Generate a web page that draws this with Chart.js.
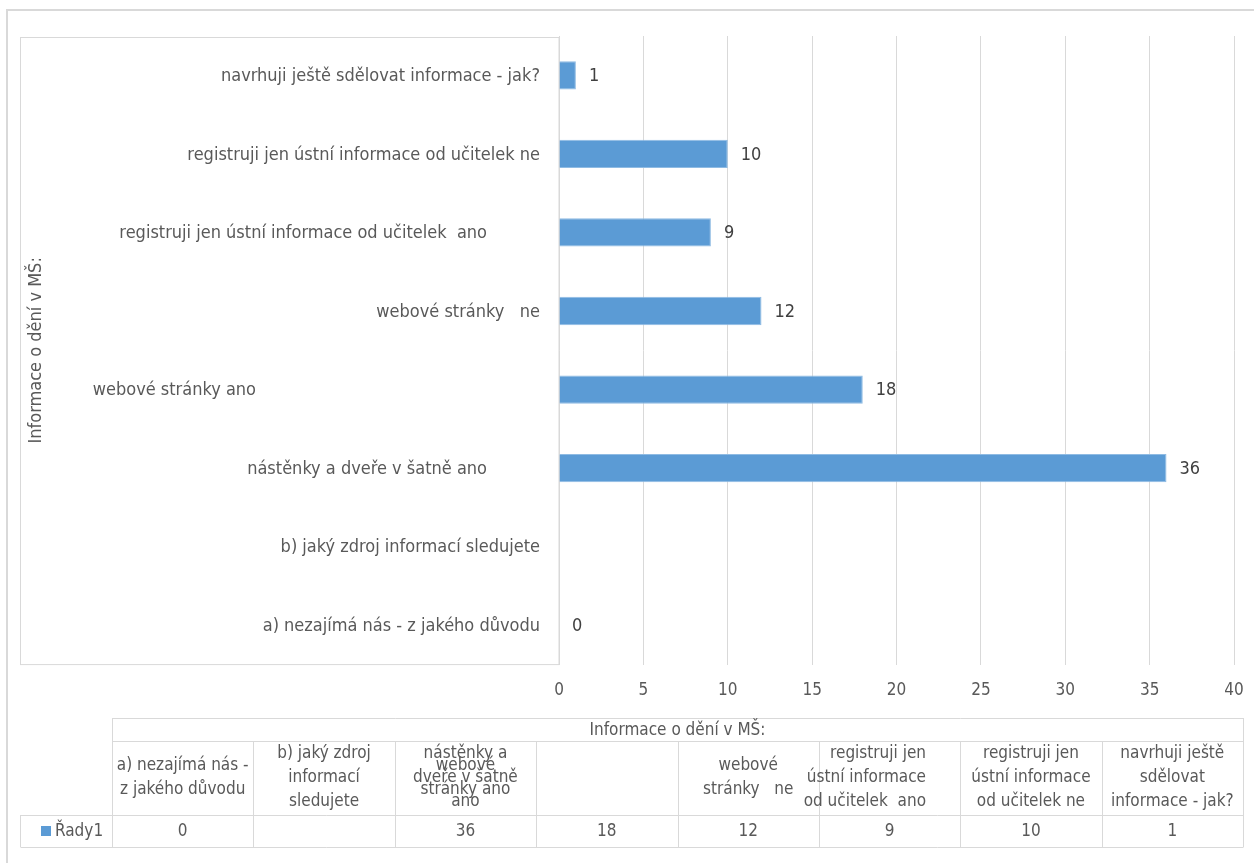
<!DOCTYPE html>
<html>
<head>
<meta charset="utf-8">
<script src="https://cdn.jsdelivr.net/npm/chart.js@4.4.1/dist/chart.umd.min.js"></script>
<style>
  html, body { margin: 0; padding: 0; background: #fff; }
  #wrap { width: 1254px; height: 863px; }
</style>
</head>
<body>
<div id="wrap"><canvas id="chart" width="1254" height="863"></canvas></div>
<script>
// Data (table order, bottom to top in the chart)
const categories = [
    'a) nezajímá nás - z jakého důvodu',
    'b) jaký zdroj informací sledujete',
    'nástěnky a dveře v šatně ano',
    'webové stránky ano',
    'webové stránky   ne',
    'registruji jen ústní informace od učitelek  ano',
    'registruji jen ústní informace od učitelek ne',
    'navrhuji ještě sdělovat informace - jak?'
];
const values = [0, null, 36, 18, 12, 9, 10, 1];
const seriesName = 'Řady1';
const axisTitle = 'Informace o dění v MŠ:';

// wrapped category text as shown in the data table
const tableLabels = [
    ['a) nezajímá nás -', 'z jakého důvodu'],
    ['b) jaký zdroj', 'informací', 'sledujete'],
    ['nástěnky a', 'dveře v šatně', 'ano'],
    ['webové', 'stránky ano'],
    ['webové', 'stránky   ne'],
    ['registruji jen', 'ústní informace', 'od učitelek  ano'],
    ['registruji jen', 'ústní informace', 'od učitelek ne'],
    ['navrhuji ještě', 'sdělovat', 'informace - jak?']
];

const FONT = '"Liberation Sans Narrow", "DejaVu Sans Condensed", sans-serif';
const TEXT = '#595959';
const GRID = '#d9d9d9';
const BLUE = '#5B9BD5';

// right edge of each category label (Excel placed them unevenly)
const labelRight = [540, 540, 487, 256, 540, 487, 540, 540];

const decorations = {
    id: 'decorations',
    beforeDraw(chart) {
        const ctx = chart.ctx;
        ctx.save();
        ctx.strokeStyle = GRID;
        ctx.lineWidth = 2;
        ctx.beginPath();
        ctx.moveTo(7, 863);
        ctx.lineTo(7, 10);
        ctx.lineTo(1254, 10);
        ctx.stroke();
        ctx.lineWidth = 1;
        ctx.strokeRect(20.5, 37.5, chart.chartArea.left - 20.5, chart.chartArea.bottom - 37.5);
        ctx.restore();
    },
    afterDatasetsDraw(chart) {
        const ctx = chart.ctx;
        const yScale = chart.scales.y;
        const meta = chart.getDatasetMeta(0);
        ctx.save();
        ctx.textBaseline = 'middle';

        // category labels
        ctx.font = '18px ' + FONT;
        ctx.fillStyle = TEXT;
        ctx.textAlign = 'right';
        categories.forEach((c, i) => {
            ctx.fillText(c, labelRight[i], yScale.getPixelForValue(i) + 1);
        });

        // value labels
        ctx.fillStyle = '#404040';
        ctx.textAlign = 'left';
        meta.data.forEach((bar, i) => {
            if (values[i] === null) return;
            ctx.fillText(String(values[i]), bar.x + 13, bar.y + 1);
        });

        // axis title
        ctx.save();
        ctx.translate(36, (chart.chartArea.top + chart.chartArea.bottom) / 2);
        ctx.rotate(-Math.PI / 2);
        ctx.textAlign = 'center';
        ctx.fillStyle = TEXT;
        ctx.fillText(axisTitle, 0, 0);
        ctx.restore();

        // data table
        ctx.font = '17px ' + FONT;
        const left = 112, right = 1243;
        const colW = (right - left) / categories.length;
        const rows = [718, 741, 815, 847];
        ctx.strokeStyle = GRID;
        ctx.lineWidth = 1;
        ctx.beginPath();
        ctx.moveTo(left + 0.5, rows[0] + 0.5); ctx.lineTo(right + 0.5, rows[0] + 0.5);
        ctx.moveTo(left + 0.5, rows[1] + 0.5); ctx.lineTo(right + 0.5, rows[1] + 0.5);
        ctx.moveTo(20.5, rows[2] + 0.5); ctx.lineTo(right + 0.5, rows[2] + 0.5);
        ctx.moveTo(20.5, rows[3] + 0.5); ctx.lineTo(right + 0.5, rows[3] + 0.5);
        ctx.moveTo(20.5, rows[2]); ctx.lineTo(20.5, rows[3]);
        ctx.moveTo(left + 0.5, rows[0]); ctx.lineTo(left + 0.5, rows[3]);
        ctx.moveTo(right + 0.5, rows[0]); ctx.lineTo(right + 0.5, rows[3]);
        for (let i = 1; i < categories.length; i++) {
            const x = Math.round(left + i * colW) + 0.5;
            ctx.moveTo(x, rows[1]); ctx.lineTo(x, rows[3]);
        }
        ctx.stroke();

        ctx.fillStyle = TEXT;
        ctx.textAlign = 'center';
        ctx.fillText(axisTitle, (left + right) / 2, (rows[0] + rows[1]) / 2 + 1);

        const lh = 24;
        tableLabels.forEach((lines, i) => {
            // column 4 label spills into column 3 in the original
            const col = i === 3 ? 2 : i;
            let cx = left + (col + 0.5) * colW;
            ctx.textAlign = 'center';
            if (i === 5) { ctx.textAlign = 'right'; cx = 926; }
            const cy = (rows[1] + rows[2]) / 2;
            lines.forEach((t, j) => {
                ctx.fillText(t, cx, cy + (j - (lines.length - 1) / 2) * lh);
            });
        });

        ctx.textAlign = 'center';
        values.forEach((v, i) => {
            if (v === null) return;
            ctx.fillText(String(v), left + (i + 0.5) * colW, (rows[2] + rows[3]) / 2 + 1);
        });

        // legend key
        ctx.fillStyle = BLUE;
        ctx.fillRect(41, 826, 10, 10);
        ctx.fillStyle = TEXT;
        ctx.textAlign = 'left';
        ctx.fillText(seriesName, 55, (rows[2] + rows[3]) / 2 + 1);
        ctx.restore();
    }
};

new Chart(document.getElementById('chart'), {
    type: 'bar',
    data: {
        labels: categories,
        datasets: [{
            label: seriesName,
            data: values,
            backgroundColor: BLUE,
            borderColor: '#8fbbe3',
            borderWidth: 1,
            barPercentage: 0.36,
            categoryPercentage: 1
        }]
    },
    options: {
        indexAxis: 'y',
        responsive: false,
        animation: false,
        devicePixelRatio: 1,
        layout: { padding: { left: 559, top: 36, right: 20, bottom: 146 } },
        plugins: {
            legend: { display: false },
            tooltip: { enabled: false }
        },
        scales: {
            x: {
                min: 0,
                max: 40,
                ticks: { stepSize: 5, color: TEXT, font: { size: 17, family: FONT }, padding: 16 },
                grid: { color: GRID, drawTicks: false },
                border: { display: false },
                afterFit(scale) { scale.paddingLeft = 0; scale.paddingRight = 0; }
            },
            y: {
                display: false,
                reverse: true
            }
        }
    },
    plugins: [decorations]
});
</script>
</body>
</html>
